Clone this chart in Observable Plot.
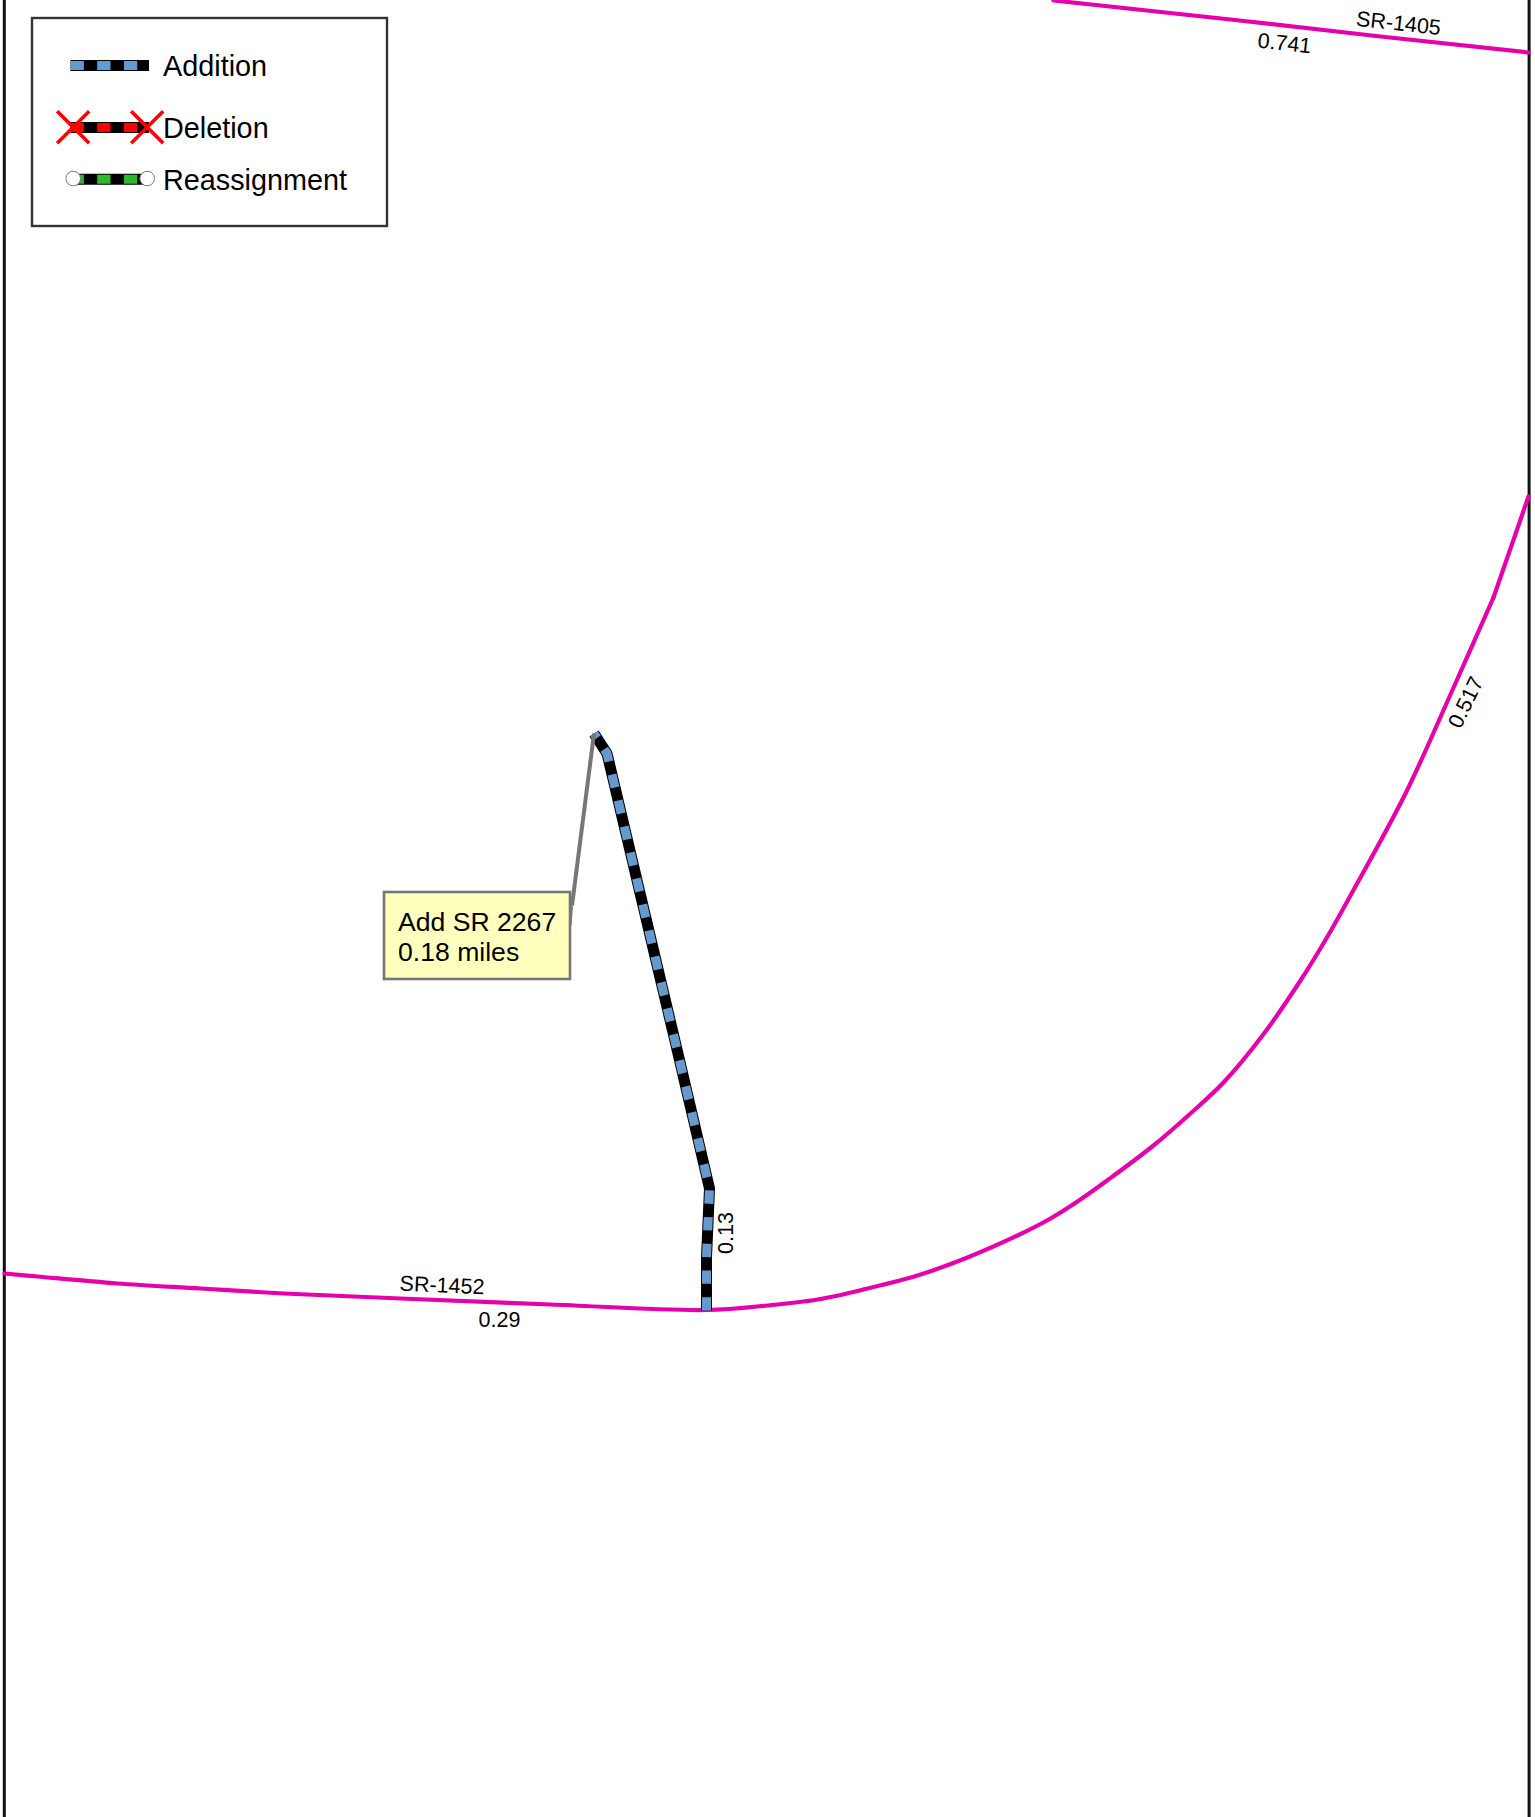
<!DOCTYPE html>
<html>
<head>
<meta charset="utf-8">
<script src="https://cdn.jsdelivr.net/npm/d3@7"></script>
<script src="https://cdn.jsdelivr.net/npm/@observablehq/plot@0.6"></script>
<style>html,body{margin:0;padding:0;background:#fff}svg{display:block}</style>
</head>
<body>
<div id="chart"></div>
<script>
// Map positions (map units)
const roadNorth = [[1053,0],[1230,19],[1380,36],[1528,52]];
const roadSouth = [[4,1273],[37,1276],[117,1283],[200,1288],[283,1293],[400,1298],[550,1304],[706,1309.5],[767,1305],[817,1299],[867,1288],[917,1275],[967,1257],[1017,1235],[1050,1218],[1077,1201],[1108,1179],[1153,1145],[1190,1113],[1223,1082],[1262,1035],[1300,980],[1327,936],[1350,895],[1405,793],[1450,694],[1493,597]];
const roadSouthEnd = [[1493,597],[1528,496]];
const additionRoad = [[706,1310],[706,1257],[709,1188],[677,1051],[606.5,753],[593.5,733]];
const leader = [[593.5,733],[571.5,905]];
const leaderTail = [[571.5,905],[570,925]];
const frameSides = [3.8,1528.6];
const legendBox = [{x1:32,x2:387,y1:18,y2:226}];
const calloutBox = [{x1:384,x2:570,y1:892,y2:979}];
const legendAddition = [[70,65],[148.5,65]];
const legendDeletion = [[70,127],[148.5,127]];
const legendReassign = [[70,178.7],[147,178.7]];
const legendCrosses = [[72.7,126.7],[146.7,126.7]];
const legendCircles = [[72.7,178],[146.7,178]];
const legendLabels = [
  {t:"Addition",x:162.5,y:65.9},
  {t:"Deletion",x:162.5,y:128},
  {t:"Reassignment",x:162.5,y:180}
];
const calloutLabels = [
  {t:"Add SR 2267",x:397.5,y:921.8},
  {t:"0.18 miles",x:397.5,y:951.8}
];
const roadLabels = [
  {t:"SR-1405",x:1398,y:23,a:6.3},
  {t:"0.741",x:1284,y:43,a:6.3},
  {t:"SR-1452",x:441.5,y:1285,a:2.5},
  {t:"0.29",x:499,y:1320,a:0},
  {t:"0.13",x:726,y:1232.5,a:-90},
  {t:"0.517",x:1465.5,y:702,a:-64}
];

const magenta = "#E600A9", blue = "#6699CD", red = "#FF0000", green = "#2DB82D";
const X = d => d[0], Y = d => d[1];
const dash = "13.35,13.35";
function striped(pts, color, w) {
  return [
    Plot.line(pts, {x:X, y:Y, stroke:"#000", strokeWidth:w, strokeLinecap:"butt", strokeLinejoin:"miter", curve:"linear"}),
    Plot.line(pts, {x:X, y:Y, stroke:color, strokeWidth:w - 2, strokeDasharray:dash, strokeLinecap:"butt", strokeLinejoin:"miter", curve:"linear"})
  ];
}
const chart = Plot.plot({
  width:1535, height:1817,
  marginTop:0, marginRight:0, marginBottom:0, marginLeft:0,
  x:{axis:null, domain:[0,1535]},
  y:{axis:null, domain:[1817,0]},
  style:{background:"#fff", fontFamily:"'Liberation Sans', Arial, sans-serif"},
  marks:[
    Plot.ruleX(frameSides, {x:d=>d, y1:0, y2:1817, stroke:"#111", strokeWidth:3}),
    Plot.line(roadNorth, {x:X, y:Y, stroke:magenta, strokeWidth:4.2, curve:"linear"}),
    Plot.line(roadSouth, {x:X, y:Y, stroke:magenta, strokeWidth:4.2, curve:"catmull-rom"}),
    Plot.line(roadSouthEnd, {x:X, y:Y, stroke:magenta, strokeWidth:4.2, curve:"linear"}),
    ...striped(additionRoad, blue, 11),
    Plot.line(leader, {x:X, y:Y, stroke:"#777", strokeWidth:4, strokeLinecap:"butt", curve:"linear"}),
    Plot.line(leaderTail, {x:X, y:Y, stroke:"#777", strokeWidth:2, strokeLinecap:"butt", curve:"linear"}),
    Plot.rect(calloutBox, {x1:"x1", x2:"x2", y1:"y1", y2:"y2", fill:"#FFFFBE", stroke:"#777", strokeWidth:2.6}),
    Plot.text(calloutLabels, {x:"x", y:"y", text:"t", textAnchor:"start", fontSize:26.6, fill:"#000"}),
    Plot.text(roadLabels, {x:"x", y:"y", text:"t", rotate:"a", fontSize:21.5, fill:"#000"}),
    Plot.rect(legendBox, {x1:"x1", x2:"x2", y1:"y1", y2:"y2", fill:"#fff", stroke:"#333", strokeWidth:2.4}),
    ...striped(legendAddition, blue, 11),
    ...striped(legendDeletion, red, 11),
    ...striped(legendReassign, green, 11),
    Plot.dot(legendCrosses, {x:X, y:Y, symbol:"times", r:14.6, stroke:red, strokeWidth:3.6}),
    Plot.dot(legendCircles, {x:X, y:Y, symbol:"circle", r:7.3, fill:"#fff", stroke:"#777", strokeWidth:1}),
    Plot.text(legendLabels, {x:"x", y:"y", text:"t", textAnchor:"start", fontSize:28.8, fill:"#000"})
  ]
});
document.getElementById("chart").appendChild(chart);
</script>
</body>
</html>
